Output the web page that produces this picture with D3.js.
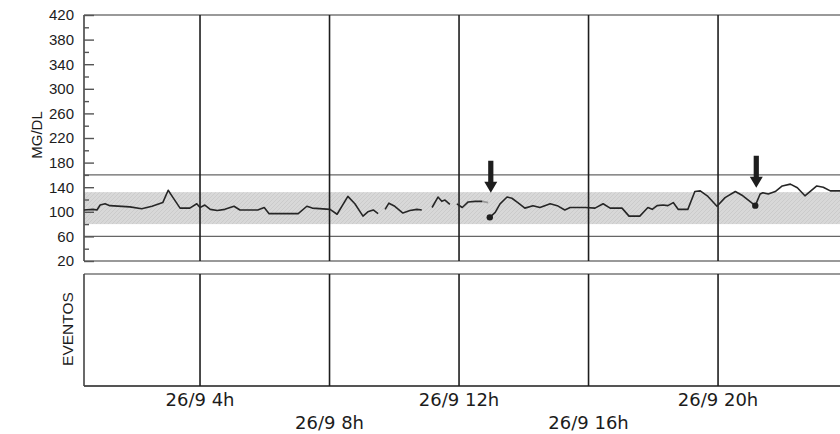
<!DOCTYPE html>
<html>
<head>
<meta charset="utf-8">
<script src="https://cdn.jsdelivr.net/npm/d3@7"></script>
<style>
  body { margin: 0; background: #fff; }
  svg { display: block; font-family: "DejaVu Sans", sans-serif; }
</style>
</head>
<body>
<svg id="chart" width="840" height="434"></svg>
<script>
// minutes since 0:00 on 26/9, null value = gap in the sensor trace
var glucoseTime = [25, 42, 49, 55, 64, 73, 110, 132, 151, 171, 181, 190, 203, 221, 234, 240, 249, 259, 272, 286, 303, 314, 347, 359, 368, 422, 438, 448, 481, 494, 514, 527, 542, 551, 561, 570,
  576,
  583, 590, 601, 616, 629, 642, 651,
  660,
  670, 681, 688, 694, 703,
  710,
  716, 726, 737, 750, 763,
  770,
  777, 787, 796, 809, 818, 829, 842, 857, 870, 889, 902, 916, 926, 954, 972, 987, 1000, 1022, 1035, 1055, 1070, 1078, 1087, 1098, 1107, 1117, 1126, 1144, 1157, 1167, 1180, 1198, 1213, 1232, 1246, 1269, 1278, 1283, 1293, 1306, 1319, 1334, 1347, 1361, 1383, 1395, 1408, 1426];
var glucoseValue = [103, 104, 103, 111, 113, 110, 108, 105, 109, 115, 135, 123, 106, 106, 113, 107, 111, 104, 102, 104, 109, 103, 103, 107, 97, 97, 109, 106, 104, 96, 125, 113, 93, 100, 103, 97,
  null,
  104, 114, 109, 98, 102, 104, 103,
  null,
  107, 124, 117, 119, 112,
  null,
  113, 107, 116, 117, 117,
  null,
  91, 99, 113, 124, 122, 115, 106, 110, 107, 113, 110, 103, 107, 107, 106, 113, 106, 106, 93, 93, 107, 104, 110, 111, 110, 115, 104, 104, 133, 134, 126, 109, 123, 133, 126, 110, 129, 131, 129, 133, 142, 145, 139, 126, 142, 140, 134, 134];

// lighter (estimated) piece just before the first event
var greyTime = [763, 774];
var greyValue = [117, 115];

// events: reading dots and arrow tips
var eventTime = [777, 1269];
var eventValue = [91, 110];
var arrowTipValue = [131, 139];

var yLabels = [20, 60, 100, 140, 180, 220, 260, 300, 340, 380, 420];
var yMinor = [40, 80, 120, 160, 200, 240, 280, 320, 360, 400];
var targetBand = [80, 132];
var limitLines = [60, 160];

var xTickTime = [240, 480, 720, 960, 1200];
var xTickLabels = ["26/9 4h", "26/9 8h", "26/9 12h", "26/9 16h", "26/9 20h"];

var svg = d3.select("#chart");
var left = 84, right = 842;
var top1 = 15, bot1 = 261, top2 = 274, bot2 = 386;
var ink = "#1c1c1c";

var x = d3.scaleLinear().domain([25, 1426]).range([left, 840]);
var y = d3.scaleLinear().domain([20, 420]).range([bot1, top1]);

// hatched grey pattern for the target range
var defs = svg.append("defs");
var pat = defs.append("pattern")
  .attr("id", "hatch")
  .attr("patternUnits", "userSpaceOnUse")
  .attr("width", 4).attr("height", 4);
pat.append("rect").attr("width", 4).attr("height", 4).attr("fill", "#d8d8d8");
pat.append("path").attr("d", "M-1,1 l2,-2 M0,4 l4,-4 M3,5 l2,-2")
  .attr("stroke", "#cbcbcb").attr("stroke-width", 1);

svg.append("rect")
  .attr("x", left).attr("width", right - left)
  .attr("y", y(targetBand[1]))
  .attr("height", y(targetBand[0]) - y(targetBand[1]))
  .attr("fill", "url(#hatch)");

// limit lines
svg.selectAll(".limit").data(limitLines).enter().append("line")
  .attr("x1", left).attr("x2", right)
  .attr("y1", function (d) { return y(d); })
  .attr("y2", function (d) { return y(d); })
  .attr("stroke", "#666").attr("stroke-width", 1.4);

// panel frames
svg.append("line").attr("x1", left).attr("x2", right).attr("y1", top1).attr("y2", top1)
  .attr("stroke", "#777").attr("stroke-width", 1.6);
svg.append("line").attr("x1", left).attr("x2", right).attr("y1", bot1).attr("y2", bot1)
  .attr("stroke", "#777").attr("stroke-width", 1.6);
svg.append("line").attr("x1", left).attr("x2", right).attr("y1", top2).attr("y2", top2)
  .attr("stroke", "#777").attr("stroke-width", 1.6);
svg.append("line").attr("x1", left).attr("x2", right).attr("y1", bot2).attr("y2", bot2)
  .attr("stroke", "#555").attr("stroke-width", 2);
svg.append("line").attr("x1", left).attr("x2", left).attr("y1", top1).attr("y2", bot1)
  .attr("stroke", "#444").attr("stroke-width", 1.6);
svg.append("line").attr("x1", left).attr("x2", left).attr("y1", top2).attr("y2", bot2)
  .attr("stroke", "#444").attr("stroke-width", 1.6);

// vertical grid lines in both panels
[[top1, bot1], [top2, bot2]].forEach(function (p) {
  svg.selectAll(null).data(xTickTime).enter().append("line")
    .attr("x1", function (d) { return x(d); })
    .attr("x2", function (d) { return x(d); })
    .attr("y1", p[0]).attr("y2", p[1])
    .attr("stroke", "#1e1e1e").attr("stroke-width", 1.6);
});

// y axis: tick marks inside, labels outside
var yTicksMajor = d3.axisRight(y).tickValues(yLabels).tickSize(10).tickFormat("");
var yTicksMinor = d3.axisRight(y).tickValues(yMinor).tickSize(5).tickFormat("");
[yTicksMajor, yTicksMinor].forEach(function (ax) {
  var g = svg.append("g").attr("transform", "translate(" + left + ",0)").call(ax);
  g.select(".domain").remove();
  g.selectAll(".tick line").attr("stroke", "#555").attr("stroke-width", 1.4);
});

var yLab = svg.append("g").attr("transform", "translate(" + left + ",0)")
  .call(d3.axisLeft(y).tickValues(yLabels).tickSize(0).tickPadding(10));
yLab.select(".domain").remove();
yLab.selectAll("text").attr("font-size", 15).attr("fill", ink)
  .attr("font-family", "'Liberation Sans', Arial, sans-serif");

// x labels, alternating rows
svg.selectAll(".xlab").data(xTickTime).enter().append("text")
  .attr("x", function (d) { return x(d); })
  .attr("y", function (d, i) { return i % 2 === 0 ? 406 : 429; })
  .attr("text-anchor", "middle")
  .attr("font-size", 18)
  .attr("fill", ink)
  .text(function (d, i) { return xTickLabels[i]; });

// axis titles
svg.append("text")
  .attr("transform", "translate(42,135) rotate(-90)")
  .attr("text-anchor", "middle")
  .attr("font-family", "'Liberation Sans', Arial, sans-serif")
  .attr("font-size", 15).attr("fill", ink)
  .text("MG/DL");
svg.append("text")
  .attr("transform", "translate(73,329) rotate(-90)")
  .attr("text-anchor", "middle")
  .attr("font-family", "'Liberation Sans', Arial, sans-serif")
  .attr("font-size", 15.5).attr("fill", ink)
  .text("EVENTOS");

// glucose trace
var line = d3.line()
  .defined(function (d) { return d[1] !== null; })
  .x(function (d) { return x(d[0]); })
  .y(function (d) { return y(d[1]); });

svg.append("path")
  .datum(d3.zip(greyTime, greyValue))
  .attr("d", line)
  .attr("fill", "none").attr("stroke", "#9a9a9a").attr("stroke-width", 1.8);

svg.append("path")
  .datum(d3.zip(glucoseTime, glucoseValue))
  .attr("d", line)
  .attr("fill", "none").attr("stroke", "#262626").attr("stroke-width", 1.6)
  .attr("stroke-linejoin", "round");

// event dots
svg.selectAll(".dot").data(d3.zip(eventTime, eventValue)).enter().append("circle")
  .attr("cx", function (d) { return x(d[0]); })
  .attr("cy", function (d) { return y(d[1]); })
  .attr("r", 3.2).attr("fill", "#1e1e1e");

// arrows pointing down at the events
svg.selectAll(".arrow").data(d3.zip(eventTime, arrowTipValue)).enter().append("path")
  .attr("transform", function (d) { return "translate(" + (x(d[0]) + 1) + "," + y(d[1]) + ")"; })
  .attr("d", "M0,0 L-6.5,-11 L-2.6,-11 L-2.6,-32 L2.6,-32 L2.6,-11 L6.5,-11 Z")
  .attr("fill", "#1e1e1e");
</script>
</body>
</html>
